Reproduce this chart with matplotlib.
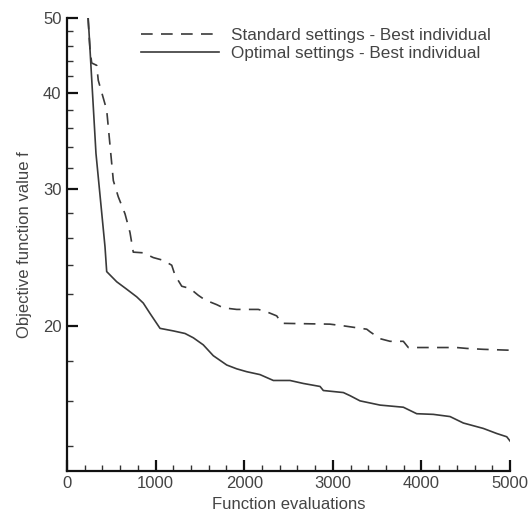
import matplotlib
matplotlib.use("Agg")
import matplotlib.pyplot as plt
from matplotlib.ticker import FixedLocator, NullFormatter, FixedFormatter

# Optimal settings - Best individual (solid)
opt_x = [237, 327, 429, 448, 561, 674, 787, 861, 937, 1050, 1200, 1332, 1426, 1538,
         1651, 1803, 1915, 2028, 2178, 2329, 2517, 2667, 2856, 2893, 3119, 3194, 3307,
         3533, 3796, 3947, 4134, 4323, 4473, 4699, 4850, 4963, 5000]
opt_y = [50.5, 33.4, 25.3, 23.5, 22.8, 22.3, 21.8, 21.4, 20.75, 19.85, 19.7, 19.55, 19.3,
         18.9, 18.3, 17.8, 17.6, 17.45, 17.3, 17.0, 17.0, 16.85, 16.7, 16.5, 16.4, 16.25,
         16.0, 15.8, 15.7, 15.4, 15.37, 15.27, 14.98, 14.74, 14.52, 14.38, 14.2]

# Standard settings - Best individual (dashed)
std_x = [237, 260, 279, 335, 353, 448, 523, 579, 655, 711, 748, 861, 974, 1087, 1182,
         1219, 1295, 1388, 1482, 1558, 1690, 1764, 1915, 2159, 2254, 2367, 2423, 2968,
         3119, 3383, 3420, 3533, 3646, 3796, 3852, 4398, 4511, 4699, 5000]
std_y = [50.0, 45.4, 43.7, 43.4, 41.5, 38.0, 30.8, 29.35, 27.9, 26.4, 24.9, 24.85, 24.5,
         24.3, 23.95, 23.25, 22.5, 22.35, 21.9, 21.6, 21.3, 21.1, 21.0, 21.0, 20.85, 20.6,
         20.15, 20.1, 20.0, 19.8, 19.65, 19.25, 19.1, 19.1, 18.75, 18.75, 18.7, 18.65, 18.6]

x_ticks = [0, 1000, 2000, 3000, 4000, 5000]
y_ticks = [20, 30, 40, 50]
y_minor = [14, 16, 18, 22, 24, 26, 28, 32, 34, 36, 38, 42, 44, 46, 48]

plt.rcParams['font.family'] = ['Liberation Sans', 'DejaVu Sans']
txt = '#444444'
lc = '#3a3a3a'

fig = plt.figure(figsize=(5.30, 5.12), dpi=100)
ax = fig.add_axes([0.1264, 0.0807, 0.9623 - 0.1264, 0.9654 - 0.0807])

ax.plot(std_x, std_y, color=lc, lw=1.2, linestyle=(0, (7, 5)),
        label='Standard settings - Best individual')
ax.plot(opt_x, opt_y, color=lc, lw=1.2, label='Optimal settings - Best individual')

ax.set_yscale('log')
ax.set_xlim(0, 5000)
ax.set_ylim(13, 50)

ax.yaxis.set_major_locator(FixedLocator(y_ticks))
ax.yaxis.set_major_formatter(FixedFormatter([str(v) for v in y_ticks]))
ax.yaxis.set_minor_locator(FixedLocator(y_minor))
ax.yaxis.set_minor_formatter(NullFormatter())
ax.xaxis.set_major_locator(FixedLocator(x_ticks))
ax.xaxis.set_minor_locator(FixedLocator(list(range(0, 5001, 200))))

for s in ['top', 'right']:
    ax.spines[s].set_visible(False)
for s in ['left', 'bottom']:
    ax.spines[s].set_linewidth(1.6)
    ax.spines[s].set_color('#111111')

ax.tick_params(which='major', direction='in', length=8, width=1.6, color='#111111',
               labelsize=12, labelcolor=txt, pad=4)
ax.tick_params(which='minor', direction='in', length=4, width=1.0, color='#333333')

ax.set_xlabel('Function evaluations', fontsize=12, color=txt, labelpad=4)
ax.set_ylabel('Objective function value f', fontsize=12, color=txt, labelpad=8)

leg = ax.legend(loc='upper right', bbox_to_anchor=(0.965, 0.985), frameon=False,
                fontsize=12.3, handlelength=4.6, handletextpad=0.7, labelspacing=0.2,
                borderaxespad=0.0, borderpad=0.2)
for t in leg.get_texts():
    t.set_color(txt)

fig.savefig('out.png', dpi=100)
